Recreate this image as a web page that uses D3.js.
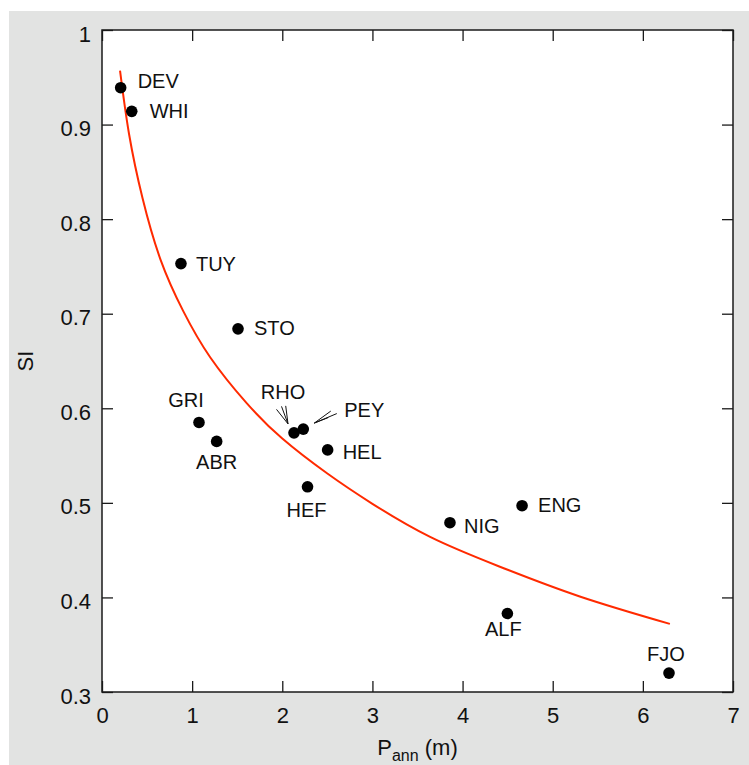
<!DOCTYPE html>
<html>
<head>
<meta charset="utf-8">
<script src="https://cdn.jsdelivr.net/npm/d3@7/dist/d3.min.js"></script>
<style>
  html, body { margin: 0; padding: 0; background: #ffffff; }
  svg { display: block; font-family: "Liberation Sans", Arial, Helvetica, sans-serif; }
</style>
</head>
<body>
<svg id="chart" width="749" height="765"></svg>
<script>
// Site codes, annual precipitation P_ann (m) and SI value per site
const sites = ["DEV", "WHI", "TUY", "STO", "GRI", "ABR", "RHO", "PEY", "HEL", "HEF", "NIG", "ENG", "ALF", "FJO"];
const pAnn  = [0.207, 0.33, 0.876, 1.509, 1.076, 1.272, 2.13, 2.233, 2.503, 2.28, 3.86, 4.66, 4.497, 6.29];
const siVal = [0.939, 0.914, 0.753, 0.684, 0.585, 0.565, 0.574, 0.578, 0.556, 0.517, 0.479, 0.497, 0.383, 0.320];

// Fitted trend curve, sampled along P_ann
const fitP  = [0.20, 0.30, 0.45, 0.65, 0.90, 1.20, 1.60, 2.00, 2.50, 3.00, 3.64, 4.40, 5.30, 6.30];
const fitSI = [0.957, 0.890, 0.822, 0.757, 0.703, 0.654, 0.606, 0.568, 0.531, 0.499, 0.464, 0.433, 0.401, 0.372];

// Axis ticks
const xTicks = [0, 1, 2, 3, 4, 5, 6, 7];
const yTicks = [0.3, 0.4, 0.5, 0.6, 0.7, 0.8, 0.9, 1];

// Label placement around each dot: [dx, dy, anchor]
const labelPlace = {
  DEV: [17, 0, "start"],
  WHI: [18, 7, "start"],
  TUY: [15, 7, "start"],
  STO: [16, 6, "start"],
  GRI: [-13, -15, "middle"],
  ABR: [0, 28, "middle"],
  RHO: [-11, -34, "middle"],
  PEY: [41, -12, "start"],
  HEL: [15, 9, "start"],
  HEF: [-1, 30, "middle"],
  NIG: [14, 10, "start"],
  ENG: [16, 6, "start"],
  ALF: [-4, 22, "middle"],
  FJO: [-3, -12, "middle"]
};

// Pointer strokes for the crowded pair: tip offset from dot, then tail offsets from tip
const pointers = {
  RHO: { tip: [-6, -9], tails: [[-11.5, -14.5], [-6.5, -17.5], [-2.3, -18]] },
  PEY: { tip: [11, -6], tails: [[22.5, -9.5], [16.5, -12], [14, -5.5]] }
};

const W = 749, H = 765;
const mLeft = 102, mRight = 733, mTop = 30, mBottom = 692;

const svg = d3.select("#chart");

// Page frame: light grey panel
svg.append("rect").attr("x", 9).attr("y", 11).attr("width", W - 9).attr("height", H - 11).attr("fill", "#e2e3e2");
svg.append("rect").attr("x", mLeft).attr("y", mTop).attr("width", mRight - mLeft).attr("height", mBottom - mTop).attr("fill", "#ffffff");

const x = d3.scaleLinear().domain([0, 7]).range([mLeft, mRight]);
const y = d3.scaleLinear().domain([0.3, 1]).range([mBottom, mTop]);

const tickLen = 11;
const fmt = d => String(d);

// Bottom axis with labels, ticks pointing inward
const gx = svg.append("g").attr("transform", `translate(0,${mBottom})`)
  .call(d3.axisBottom(x).tickValues(xTicks).tickFormat(fmt).tickSizeInner(-tickLen).tickSizeOuter(0).tickPadding(15));
// Left axis with labels
const gy = svg.append("g").attr("transform", `translate(${mLeft},0)`)
  .call(d3.axisLeft(y).tickValues(yTicks).tickFormat(fmt).tickSizeInner(-tickLen).tickSizeOuter(0).tickPadding(11));
// Top and right: ticks only
const gt = svg.append("g").attr("transform", `translate(0,${mTop})`)
  .call(d3.axisTop(x).tickValues(xTicks).tickFormat("").tickSizeInner(-tickLen).tickSizeOuter(0));
const gr = svg.append("g").attr("transform", `translate(${mRight},0)`)
  .call(d3.axisRight(y).tickValues(yTicks).tickFormat("").tickSizeInner(-tickLen).tickSizeOuter(0));

[gx, gy, gt, gr].forEach(g => {
  g.select(".domain").remove();
  g.selectAll(".tick line").attr("stroke", "#1a1a1a").attr("stroke-width", 1.3);
  g.selectAll(".tick text").attr("fill", "#111").attr("font-size", 22).attr("font-family", "Liberation Sans, Arial, sans-serif");
});
gy.selectAll(".tick text").attr("dy", "0.5em");

// Plot border
svg.append("rect").attr("x", mLeft).attr("y", mTop).attr("width", mRight - mLeft).attr("height", mBottom - mTop)
  .attr("fill", "none").attr("stroke", "#1a1a1a").attr("stroke-width", 1.5);

// Axis titles
svg.append("text").attr("transform", `translate(33,${(mTop + mBottom) / 2}) rotate(-90)`)
  .attr("text-anchor", "middle").attr("font-size", 22).attr("fill", "#111").text("SI");

const xt = svg.append("text").attr("x", (mLeft + mRight) / 2).attr("y", 755)
  .attr("text-anchor", "middle").attr("font-size", 22).attr("fill", "#111");
xt.append("tspan").text("P");
xt.append("tspan").attr("font-size", 16).attr("dy", 6).text("ann");
xt.append("tspan").attr("dy", -6).text(" (m)");

// Trend curve
const fit = fitP.map((p, i) => [p, fitSI[i]]);
svg.append("path").datum(fit)
  .attr("fill", "none").attr("stroke", "#ff2a00").attr("stroke-width", 2)
  .attr("d", d3.line().x(d => x(d[0])).y(d => y(d[1])).curve(d3.curveNatural));

// Site dots
const pts = sites.map((s, i) => ({ name: s, p: pAnn[i], si: siVal[i] }));
svg.append("g").selectAll("circle").data(pts).join("circle")
  .attr("cx", d => x(d.p)).attr("cy", d => y(d.si)).attr("r", 5.8).attr("fill", "#000");

// Site labels
svg.append("g").selectAll("text").data(pts).join("text")
  .attr("x", d => x(d.p) + labelPlace[d.name][0])
  .attr("y", d => y(d.si) + labelPlace[d.name][1])
  .attr("text-anchor", d => labelPlace[d.name][2])
  .attr("font-size", 20).attr("fill", "#111")
  .text(d => d.name);

// Pointer strokes
const pg = svg.append("g").attr("stroke", "#111").attr("stroke-width", 1).attr("fill", "none");
pts.filter(d => pointers[d.name]).forEach(d => {
  const pc = pointers[d.name];
  const tx = x(d.p) + pc.tip[0], ty = y(d.si) + pc.tip[1];
  pc.tails.forEach(t => {
    pg.append("line").attr("x1", tx).attr("y1", ty).attr("x2", tx + t[0]).attr("y2", ty + t[1]);
  });
});
</script>
</body>
</html>
